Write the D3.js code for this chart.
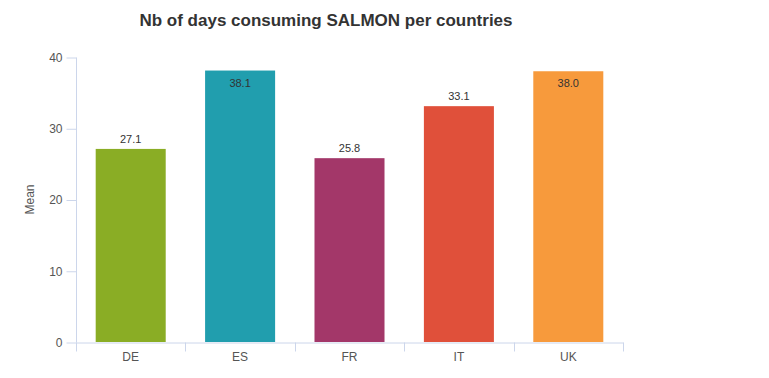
<!DOCTYPE html>
<meta charset="utf-8">
<style>
body {
  margin: 0;
  padding: 0;
  background: #fff;
}
svg {
  font-family: "Liberation Sans", Arial, sans-serif;
}
.title {
  font-size: 17px;
  font-weight: bold;
  fill: #333;
  text-anchor: middle;
}
.axis path,
.axis line {
  stroke: #ccd6eb;
  stroke-width: 1px;
}
.axis text {
  fill: #555;
  font-size: 12px;
}
.ylabel {
  fill: #555;
  font-size: 12px;
  text-anchor: middle;
}
.value {
  fill: #333;
  font-size: 11px;
  text-anchor: middle;
}
</style>
<body>
<script src="https://cdn.jsdelivr.net/npm/d3@7"></script>
<script>
var countries = ["DE", "ES", "FR", "IT", "UK"];
var means = [27.1, 38.1, 25.8, 33.1, 38.0];
var colors = ["#8aad25", "#219eae", "#a33769", "#e0503a", "#f79a3c"];
var yTicks = [0, 10, 20, 30, 40];

var width = 769,
    height = 378;

var margin = {top: 57, right: 146, bottom: 36, left: 76};

var svg = d3.select("body").append("svg")
    .attr("width", width)
    .attr("height", height);

var x = d3.scaleBand()
    .domain(countries)
    .range([margin.left, width - margin.right])
    .paddingInner(0.36)
    .paddingOuter(0.18);

var y = d3.scaleLinear()
    .domain([0, 40])
    .range([height - margin.bottom, margin.top]);

svg.append("text")
    .attr("class", "title")
    .attr("x", 326)
    .attr("y", 26)
    .text("Nb of days consuming SALMON per countries");

// y axis
var yAxis = svg.append("g")
    .attr("class", "axis")
    .attr("transform", "translate(" + (margin.left + 0.5) + ",0.5)")
    .call(d3.axisLeft(y).tickValues(yTicks).tickSize(10).tickPadding(4).tickSizeOuter(0));
yAxis.select(".domain").attr("d", "M0," + y(40) + "V" + y(0));

svg.append("text")
    .attr("class", "ylabel")
    .attr("transform", "translate(34," + ((y(0) + y(40)) / 2) + ") rotate(-90)")
    .text("Mean");

// x axis
var xAxis = svg.append("g")
    .attr("class", "axis")
    .attr("transform", "translate(0," + (y(0) + 0.5) + ")")
    .call(d3.axisBottom(x).tickSize(0).tickPadding(8).tickSizeOuter(0));
xAxis.selectAll(".tick text").attr("dy", "0.9em");

// category separators
var edges = countries.map(function(c) { return x(c) - x.step() * x.paddingInner() / 2; });
edges.push(width - margin.right);
xAxis.selectAll(".sep")
    .data(edges)
    .enter().append("line")
    .attr("class", "sep")
    .attr("x1", function(d) { return Math.round(d) + 0.5; })
    .attr("x2", function(d) { return Math.round(d) + 0.5; })
    .attr("y1", 0)
    .attr("y2", 9);

svg.selectAll(".bar")
    .data(countries)
    .enter().append("rect")
    .attr("class", "bar")
    .attr("x", function(d) { return x(d); })
    .attr("y", function(d, i) { return y(means[i]); })
    .attr("width", x.bandwidth())
    .attr("height", function(d, i) { return y(0) - y(means[i]); })
    .attr("fill", function(d, i) { return colors[i]; });

svg.selectAll(".value")
    .data(countries)
    .enter().append("text")
    .attr("class", "value")
    .attr("x", function(d) { return x(d) + x.bandwidth() / 2; })
    .attr("y", function(d, i) {
      var top = y(means[i]);
      return top - 7 < margin.top + 10 ? top + 16 : top - 6;
    })
    .text(function(d, i) { return means[i].toFixed(1); });
</script>
</body>
